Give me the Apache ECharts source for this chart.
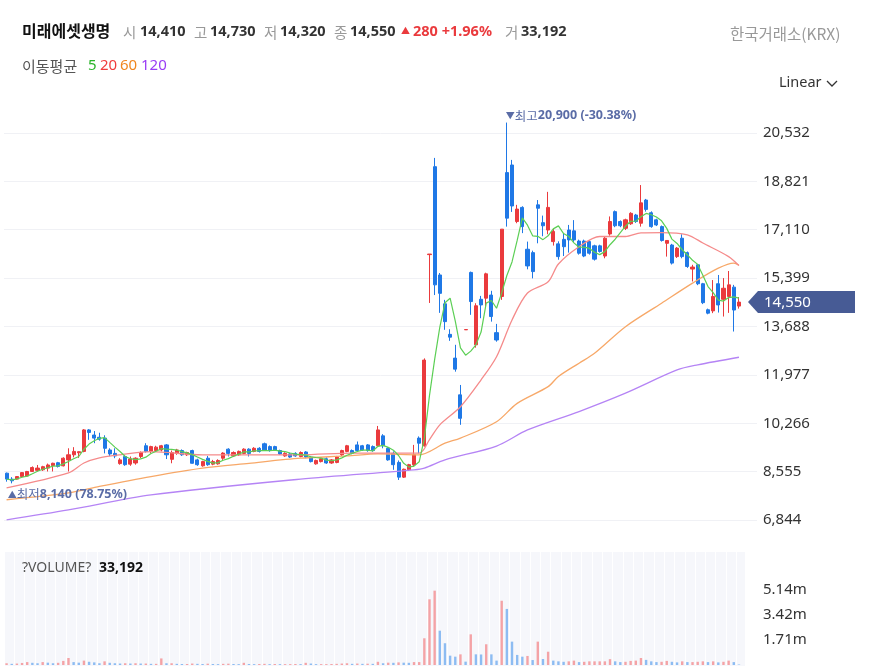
<!DOCTYPE html>
<html><head><meta charset="utf-8">
<script src="https://cdn.jsdelivr.net/npm/echarts@6/dist/echarts.min.js"></script>
<style>html,body{margin:0;padding:0;background:#fff}#c{width:872px;height:671px}</style>
</head><body><div id="c"></div>
<script>
// ---- data ----
const opens = [8500,8290,8290,8380,8400,8560,8600,8620,8680,8770, 8870,8760,8970,9150,9220,9270,10030,9850,9770,9740, 9320,9200,8840,9090,8820,8860,9090,9470,9270,9300, 9320,9500,8990,9200,9300,9150,9300,8970,8760,9030, 8820,8830,9030,9350,9110,9150,9200,9350,9270,9380, 9540,9440,9440,9300,9110,9180,9200,9090,9250,9070, 8830,8910,9010,8860,8880,9150,9270,9300,9500,9470, 9500,9440,9470,9820,9380,9200,8880,8360,8620,8800, 9740,9470,16230,19340,15510,14490,13410,12570,11270,13570, 15600,13040,14650,14690,14800,13470,14750,19130,19400,17400, 17900,16420,16300,17990,17360,17100,16690,16610,16770,17100, 17070,16710,16710,16690,16540,16540,16180,16960,17750,17400, 17160,17320,17630,17340,18160,17710,17460,17220,16630,16570, 16160,16810,16300,15720,15870,15200,14280,14240,15200,14650, 14750,15080,14410];
const closes = [8290,8230,8380,8520,8560,8700,8680,8730,8790,8850, 8740,9030,9150,9270,9260,10030,9940,9740,9700,9380, 9180,9110,8970,8800,9000,9030,9230,9270,9440,9420, 9470,9150,9230,9320,9150,9230,8850,8800,8910,8800, 8910,8950,9210,9200,9230,9270,9350,9200,9380,9270, 9320,9300,9320,9180,9200,9070,9110,9230,9070,8910, 8950,9010,8860,8970,9070,9300,9470,9200,9300,9320, 9300,9300,10030,9470,8970,8800,8360,8640,8800,9150, 9560,12500,16250,15160,14860,13860,13310,12180,10440,13580, 14570,14420,14450,15550,14040,13210,17130,17520,17950,17840, 17220,15830,15630,17870,17250,17900,17050,16160,16510,16750, 16750,16280,16180,16280,16070,16340,16810,17400,17250,17250, 17460,17690,17400,18060,17830,17220,17280,16730,16730,15930, 16460,16160,15810,15790,15200,14530,14160,14750,14450,15040, 15160,14270,14550];
const lows = [8200,8140,8270,8360,8390,8540,8560,8580,8560,8560, 8700,8740,8560,9060,9040,9240,9680,9560,9650,9200, 9100,9030,8800,8760,8760,8800,9030,9230,9200,9260, 9270,9000,8850,9150,9110,9110,8840,8760,8730,8760, 8780,8800,8970,9090,9070,9110,9170,9090,9240,9230, 9300,9260,9290,9150,9080,9040,9080,9060,9030,8880, 8800,8880,8830,8830,8850,9110,9240,9170,9270,9290, 9260,9260,9440,9380,8940,8620,8260,8330,8580,8730, 9200,9440,14520,14800,14170,13570,13180,12090,10210,13570, 14100,12940,13980,14390,13860,13150,14630,17220,17740,17340, 16990,15710,15390,16630,16880,16950,16550,16050,16180,16300, 16680,16230,16140,16230,16020,16300,16100,16900,17200,17200, 17100,17280,17350,17220,17750,17180,17240,16690,16160,15880, 16110,16100,15760,15280,15150,14480,14120,14160,14180,14040, 14170,13510,14320];
const highs = [8520,8360,8400,8540,8580,8740,8790,8760,8840,8870, 8900,9060,9380,9420,9270,10060,10060,9990,9930,9840, 9380,9380,9030,9150,9090,9060,9270,9560,9470,9470, 9500,9530,9300,9360,9340,9260,9330,9010,8940,9110, 8970,8990,9240,9380,9270,9300,9380,9380,9420,9420, 9580,9480,9470,9330,9240,9210,9240,9270,9280,9110, 8980,9050,9060,9000,9110,9330,9500,9340,9620,9500, 9530,9480,10170,9880,9420,9270,8950,8660,8830,9500, 9800,12560,16250,19650,15580,14630,13590,13040,11620,13580, 15630,14510,14770,15590,14950,13780,17130,20900,19580,17990, 17940,16690,16370,18160,17610,18450,17150,16700,16960,17280, 17450,16760,16760,16730,16580,16580,16860,17580,17790,17440, 17500,17730,17670,18690,18200,17760,17500,17260,16730,16610, 16500,16950,16340,15870,15900,15230,14320,15330,15510,15400, 15650,15160,14730];
const volumes = [120000,80000,100000,140000,200000,150000,120000,200000,160000,120000, 150000,280000,480000,200000,160000,300000,220000,180000,120000,250000, 150000,120000,100000,120000,100000,120000,100000,100000,80000,80000, 450000,120000,120000,80000,70000,70000,100000,80000,70000,90000, 70000,60000,80000,90000,70000,60000,150000,70000,60000,70000, 80000,60000,70000,60000,60000,60000,70000,60000,150000,100000, 60000,60000,60000,70000,80000,100000,120000,80000,100000,80000, 90000,80000,220000,120000,160000,150000,180000,160000,150000,200000, 200000,1830000,4500000,5090000,2350000,1490000,640000,570000,730000,230000, 2100000,730000,720000,1420000,730000,300000,4400000,3840000,1600000,690000, 570000,620000,340000,1600000,410000,910000,300000,250000,220000,250000, 300000,200000,220000,250000,250000,250000,250000,400000,250000,200000, 220000,280000,300000,480000,350000,250000,200000,220000,280000,220000, 180000,250000,200000,200000,220000,250000,200000,250000,180000,220000, 300000,200000,33192];
// moving-average lines: [candle index, value]
const ma20Points = [[0,7980],[12,8510],[15,8860],[18,9040],[22,9150],[28,9260],[38,9150],[44,9150],[57,9150],[67,9210],[80,9210],[82,9690],[84,10210],[88,10850],[92,11800],[95,12620],[98,13920],[101,14870],[105,15270],[107,15900],[111,16510],[115,16870],[120,16870],[123,17000],[127,17010],[132,16930],[135,16640],[140,16160],[142,15840]];
const ma60Points = [[0,7560],[12,7800],[18,8030],[28,8380],[38,8680],[47,8850],[57,9030],[66,9110],[72,9180],[80,9150],[85,9560],[88,9740],[95,10320],[99,10970],[105,11560],[107,11920],[111,12390],[114,12740],[120,13680],[127,14510],[133,15220],[138,15750],[141,15930],[142,15860]];
const ma120Points = [[0,6850],[12,7200],[28,7730],[57,8290],[79,8620],[81,8680],[85,8970],[95,9460],[101,10030],[111,10680],[120,11330],[130,12150],[134,12330],[142,12600]];
const priceTicks = [6844, 1711, 22243]; // min, interval, max
const volTicks = [0, 1712000, 7738000];  // min, interval, max
const slotCount = 146; // 143 candles + empty slots on the right

const categories = [];
for (let i = 0; i < slotCount; i++) categories.push('D' + (i + 1));

const FONT = "'Noto Sans CJK KR','Noto Sans',sans-serif";
const AXF = "'Noto Sans','Noto Sans CJK KR',sans-serif";
const UP = '#ea3a3d', DOWN = '#1f78e6', UPL = '#f4a3a6', DOWNL = '#8dbcf2';
const fmt = v => v.toLocaleString('en-US');

const candleData = opens.map((o, i) => [o, closes[i], lows[i], highs[i]]);
const ma5 = closes.map((c, i) => { const s = closes.slice(Math.max(0, i - 4), i + 1); return Math.round(s.reduce((a, b) => a + b, 0) / s.length); });
// volume bars: red when volume rose versus the previous session, blue when it fell
const volData = volumes.map((v, i) => ({ value: v, itemStyle: { color: (i === 0 || v >= volumes[i - 1]) ? UPL : DOWNL } }));

const last = closes.length - 1;
const maxHigh = Math.max(...highs), maxIdx = highs.indexOf(maxHigh);
const minLow = Math.min(...lows), minIdx = lows.indexOf(minLow);
const pctFromMax = ((closes[last] / maxHigh - 1) * 100).toFixed(2);
const pctFromMin = ((closes[last] / minLow - 1) * 100).toFixed(2);
const LBL = '#5a6ca6';
const richLbl = { a: { fontSize: 9, color: LBL, fontFamily: FONT }, b: { fontSize: 12.5, color: LBL, fontFamily: FONT }, c: { fontSize: 12.5, color: LBL, fontWeight: 'bold', fontFamily: AXF } };

const chart = echarts.init(document.getElementById('c'));
const axisCommonX = { type: 'category', data: categories, boundaryGap: true, axisLine: { show: false }, axisTick: { show: false }, axisLabel: { show: false } };
chart.setOption({
  animation: false,
  backgroundColor: '#ffffff',
  grid: [
    { left: 4, top: 84.6, width: 753, height: 435.4 },
    { left: 4, top: 552, width: 753, height: 113 }
  ],
  xAxis: [
    Object.assign({ gridIndex: 0, splitLine: { show: false } }, axisCommonX),
    Object.assign({ gridIndex: 1, splitLine: { show: true, interval: 1, lineStyle: { color: '#ffffff', width: 1 } } }, axisCommonX)
  ],
  yAxis: [
    { type: 'value', gridIndex: 0, position: 'right', min: priceTicks[0], interval: priceTicks[1], max: priceTicks[2],
      axisLine: { show: false }, axisTick: { show: false },
      axisLabel: { margin: 6, color: '#333', fontSize: 15, fontFamily: AXF, showMaxLabel: false,
        formatter: v => (v >= priceTicks[2] ? '' : fmt(v)) },
      splitLine: { showMaxLine: false, lineStyle: { color: ['#f0f1f5','#f0f1f5','#f0f1f5','#f0f1f5','#f0f1f5','#f0f1f5','#f0f1f5','#f0f1f5','#f0f1f5','rgba(0,0,0,0)'], width: 1 } } },
    { type: 'value', gridIndex: 1, position: 'right', min: volTicks[0], interval: volTicks[1], max: volTicks[2],
      axisLine: { show: false }, axisTick: { show: false }, splitLine: { show: false },
      axisLabel: { margin: 6, color: '#333', fontSize: 15, fontFamily: AXF, showMaxLabel: false,
        formatter: v => (v <= 0 || v >= 6000000 ? '' : (v / 1e6).toFixed(2) + 'm') } }
  ],
  series: [
    { type: 'candlestick', xAxisIndex: 0, yAxisIndex: 0, data: candleData, barWidth: 3.6, z: 2,
      itemStyle: { color: UP, color0: DOWN, borderColor: UP, borderColor0: DOWN, borderWidth: 1 },
      markPoint: { symbol: 'circle', symbolSize: 0, silent: true, animation: false,
        data: [
          { coord: [maxIdx, maxHigh], value: maxHigh,
            label: { show: true, position: [-1, -13], formatter: '{a|▼}{b|최고}{c|' + fmt(maxHigh) + ' (' + pctFromMax + '%)}', rich: richLbl } },
          { coord: [minIdx, minLow], value: minLow,
            label: { show: true, position: [-4, 5], formatter: '{a|▲}{b|최저}{c|' + fmt(minLow) + ' (' + pctFromMin + '%)}', rich: richLbl } }
        ] } },
    { type: 'line', name: 'MA120', xAxisIndex: 0, yAxisIndex: 0, data: ma120Points, smooth: 0.3, showSymbol: false, symbol: 'none', z: 3, lineStyle: { color: '#b584f5', width: 1.3 } },
    { type: 'line', name: 'MA60', xAxisIndex: 0, yAxisIndex: 0, data: ma60Points, smooth: 0.3, showSymbol: false, symbol: 'none', z: 3, lineStyle: { color: '#f7a868', width: 1.3 } },
    { type: 'line', name: 'MA20', xAxisIndex: 0, yAxisIndex: 0, data: ma20Points, smooth: 0.3, showSymbol: false, symbol: 'none', z: 3, lineStyle: { color: '#f58b8b', width: 1.3 } },
    { type: 'line', name: 'MA5', xAxisIndex: 0, yAxisIndex: 0, data: ma5, smooth: false, showSymbol: false, symbol: 'none', z: 4, lineStyle: { color: '#5ccf55', width: 1.2 } },
    { type: 'bar', xAxisIndex: 1, yAxisIndex: 1, data: volData, barWidth: 2.4, z: 2 }
  ]
});

const tagY = chart.convertToPixel({ yAxisIndex: 0 }, closes[last]);
const prevClose = closes[last - 1];
const chg = closes[last] - prevClose;
const chgPct = (chg / prevClose * 100).toFixed(2);
const T = (x, y, text, font, fill) => ({ type: 'text', x: x, y: y, silent: true, z: 5, style: { text: text, font: font, fill: fill, verticalAlign: 'middle', textVerticalAlign: 'middle' } });
const B14 = '700 14.5px ' + AXF, N14 = '14.5px ' + FONT;
chart.setOption({
  graphic: [
    { type: 'rect', z: -1, silent: true, shape: { x: 5, y: 552, width: 740, height: 114 }, style: { fill: '#f6f7fb' } },
    T(22, 31, '미래에셋생명', '700 16px ' + FONT, '#111'),
    T(123, 32, '시', N14, '#999'), T(140, 32, fmt(opens[last]), B14, '#333'),
    T(194, 32, '고', N14, '#999'), T(210, 32, fmt(highs[last]), B14, '#333'),
    T(264, 32, '저', N14, '#999'), T(280, 32, fmt(lows[last]), B14, '#333'),
    T(334, 32, '종', N14, '#999'), T(350, 32, fmt(closes[last]), B14, '#333'),
    T(401, 31, '▲', '9px ' + FONT, '#ea3a3d'), T(413, 32, fmt(chg) + ' +' + chgPct + '%', B14, '#ea3a3d'),
    T(505, 32, '거', N14, '#999'), T(521, 32, fmt(volumes[last]), B14, '#333'),
    T(730, 34, '한국거래소(KRX)', '15.5px ' + FONT, '#999'),
    T(22, 66, '이동평균', '15px ' + FONT, '#555'),
    T(88, 66, '5', '15px ' + AXF, '#2bb52b'), T(100, 66, '20', '15px ' + AXF, '#f03c3c'), T(120, 66, '60', '15px ' + AXF, '#f0861e'), T(141, 66, '120', '15px ' + AXF, '#9a3cf5'),
    T(779, 83, 'Linear', '14.5px ' + AXF, '#333'),
    { type: 'polyline', silent: true, shape: { points: [[827, 81], [832, 86], [837, 81]] }, style: { stroke: '#333', lineWidth: 1.3, fill: null } },
    T(22, 568, '?VOLUME?', '14px ' + AXF, '#555'),
    T(99, 568, fmt(volumes[last]), '700 14px ' + AXF, '#111'),
    { type: 'polygon', silent: true, z: 10, shape: { points: [[748, tagY], [758, tagY - 11], [855, tagY - 11], [855, tagY + 11], [758, tagY + 11]] }, style: { fill: '#475b95' } },
    Object.assign(T(764, tagY + 1, fmt(closes[last]), '15px ' + AXF, '#ffffff'), { z: 11 })
  ]
});
</script></body></html>
